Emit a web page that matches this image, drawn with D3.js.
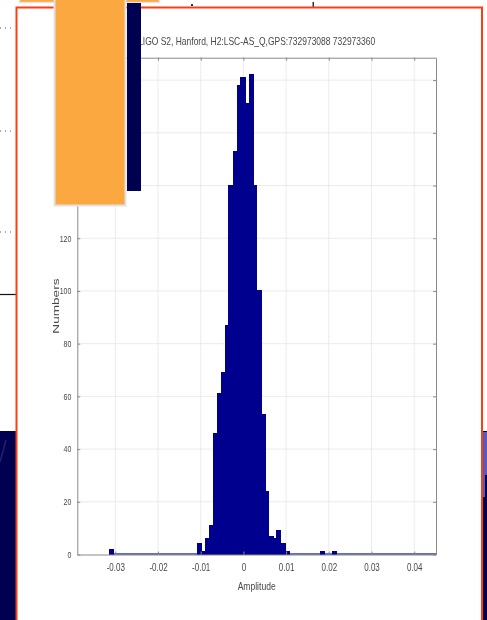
<!DOCTYPE html>
<html>
<head>
<meta charset="utf-8">
<script src="https://cdn.jsdelivr.net/npm/d3@7"></script>
<style>
  html, body { margin: 0; padding: 0; background: #ffffff; }
  svg { display: block; }
</style>
</head>
<body>
<svg id="slide" width="487" height="620"></svg>
<script>
// Histogram of strain amplitudes (bin centres and counts)
const binCenters = [-0.0308, -0.0103, -0.0094, -0.0084, -0.0075, -0.0066, -0.0057,
  -0.0047, -0.0038, -0.0029, -0.0019, -0.0010, -0.0001, 0.0009, 0.0018, 0.0027,
  0.0037, 0.0046, 0.0055, 0.0065, 0.0074, 0.0083, 0.0093, 0.0102, 0.0186, 0.0214];
const binCounts = [2, 4, 1, 6, 11, 46, 61, 69, 87, 140, 153, 178, 181, 171, 182,
  140, 100, 53, 24, 7, 6, 9, 4, 1, 1, 1];
const binWidth = 0.000932;

const xTicks = [-0.03, -0.02, -0.01, 0, 0.01, 0.02, 0.03, 0.04];
const xTickLabels = ["-0.03", "-0.02", "-0.01", "0", "0.01", "0.02", "0.03", "0.04"];
const yTicks = [0, 20, 40, 60, 80, 100, 120, 140, 160, 180];
const yTickLabels = ["0", "20", "40", "60", "80", "100", "120", "140", "160", "180"];

const titleText = "LIGO S2, Hanford, H2:LSC-AS_Q,GPS:732973088 732973360";
const xLabel = "Amplitude";
const yLabel = "Numbers";

const svg = d3.select("#slide");
const defs = svg.append("defs");
defs.append("filter").attr("id", "soft")
  .attr("x", "-5%").attr("y", "-5%").attr("width", "110%").attr("height", "110%")
  .append("feGaussianBlur").attr("stdDeviation", 0.65);

// ---- slide background pieces ----
const bg = svg.append("g");
// dotted guide marks on the left margin
[28, 131, 232].forEach(yy => {
  bg.append("line").attr("x1", 0).attr("x2", 15).attr("y1", yy).attr("y2", yy)
    .attr("stroke", "#555").attr("stroke-width", 1).attr("stroke-dasharray", "1,4");
});
bg.append("line").attr("x1", 0).attr("x2", 16).attr("y1", 294.5).attr("y2", 294.5)
  .attr("stroke", "#111").attr("stroke-width", 1.2);
// navy footer blocks
bg.append("rect").attr("x", 0).attr("y", 431).attr("width", 17).attr("height", 189).attr("fill", "#000050");
bg.append("line").attr("x1", 0).attr("y1", 462).attr("x2", 6).attr("y2", 440)
  .attr("stroke", "#22226a").attr("stroke-width", 1.5);
bg.append("rect").attr("x", 482).attr("y", 431).attr("width", 5).attr("height", 189).attr("fill", "#000050");
bg.append("rect").attr("x", 483).attr("y", 432).attr("width", 4).attr("height", 43).attr("fill", "#5a5ab8");
bg.append("rect").attr("x", 483).attr("y", 475).attr("width", 2).attr("height", 22).attr("fill", "#5a5ab8");
// small marks along the top
bg.append("rect").attr("x", 191).attr("y", 4).attr("width", 2).attr("height", 2).attr("fill", "#333");
bg.append("rect").attr("x", 312.5).attr("y", 2).attr("width", 1.5).attr("height", 7).attr("fill", "#333");

// white panel with red frame
svg.append("rect").attr("x", 16.5).attr("y", 7.5).attr("width", 465.5).attr("height", 630)
  .attr("fill", "#ffffff").attr("stroke", "#ff3d12").attr("stroke-width", 2);

// ---- chart ----
const plotLeft = 77.3, plotRight = 436, plotTop = 57.7, plotBottom = 554.5;
const x = d3.scaleLinear().domain([-0.0389, 0.0451]).range([plotLeft, plotRight]);
const y = d3.scaleLinear().domain([0, 188.5]).range([plotBottom, plotTop]);

const chart = svg.append("g").attr("filter", "url(#soft)");
const fontFam = "'Liberation Sans', Arial, sans-serif";
const ink = "#474747";

// gridlines
chart.append("g").selectAll("line").data(xTicks).join("line")
  .attr("x1", d => x(d)).attr("x2", d => x(d)).attr("y1", plotTop).attr("y2", plotBottom)
  .attr("stroke", "#d4d4d4").attr("stroke-width", 0.9).attr("stroke-dasharray", "1,1");
chart.append("g").selectAll("line").data(yTicks.filter(d => d > 0)).join("line")
  .attr("x1", plotLeft).attr("x2", plotRight).attr("y1", d => y(d)).attr("y2", d => y(d))
  .attr("stroke", "#d4d4d4").attr("stroke-width", 0.9).attr("stroke-dasharray", "1,1");

// zero-count baseline of the histogram
chart.append("line")
  .attr("x1", x(binCenters[0] - binWidth / 2)).attr("x2", plotRight)
  .attr("y1", y(0) - 0.5).attr("y2", y(0) - 0.5)
  .attr("stroke", "#2b3bc0").attr("stroke-width", 1.3);

// histogram bars
chart.append("g").selectAll("rect").data(binCenters).join("rect")
  .attr("x", d => x(d - binWidth / 2))
  .attr("width", d => x(d + binWidth / 2) - x(d - binWidth / 2))
  .attr("y", (d, i) => y(binCounts[i]))
  .attr("height", (d, i) => y(0) - y(binCounts[i]))
  .attr("fill", "#00008f").attr("stroke", "#00008f").attr("stroke-width", 1.1)
  .attr("shape-rendering", "crispEdges");

// axes (ticks pointing inward)
function styleAxis(g) {
  g.select(".domain").attr("stroke", "#8a8a8a").attr("stroke-width", 1);
  g.selectAll(".tick line").attr("stroke", "#8a8a8a");
}
const xAxis = chart.append("g").attr("transform", `translate(0,${plotBottom})`)
  .call(d3.axisBottom(x).tickValues(xTicks).tickFormat((d, i) => xTickLabels[i])
    .tickSize(-3).tickSizeOuter(0))
  .call(styleAxis);
xAxis.selectAll("text")
  .attr("y", 0).attr("dy", null)
  .attr("transform", "translate(0,13.5) scale(1,1.3)")
  .attr("dominant-baseline", "central")
  .attr("font-family", fontFam).attr("font-size", 8).attr("fill", ink);

const yAxis = chart.append("g").attr("transform", `translate(${plotLeft},0)`)
  .call(d3.axisLeft(y).tickValues(yTicks).tickFormat((d, i) => yTickLabels[i])
    .tickSize(-3).tickSizeOuter(0))
  .call(styleAxis);
yAxis.selectAll("text")
  .attr("x", 0).attr("dy", null)
  .attr("transform", "translate(-6,0) scale(1,1.3)")
  .attr("dominant-baseline", "central")
  .attr("font-family", fontFam).attr("font-size", 7).attr("fill", ink);

chart.append("g").attr("transform", `translate(0,${plotTop})`)
  .call(d3.axisTop(x).tickValues(xTicks).tickFormat("").tickSize(-3).tickSizeOuter(0))
  .call(styleAxis);
chart.append("g").attr("transform", `translate(${plotRight},0)`)
  .call(d3.axisRight(y).tickValues(yTicks).tickFormat("").tickSize(-3).tickSizeOuter(0))
  .call(styleAxis);

// titles
chart.append("text")
  .attr("transform", `translate(${(plotLeft + plotRight) / 2},41.5) scale(1,1.25)`)
  .attr("text-anchor", "middle").attr("dominant-baseline", "central")
  .attr("font-family", fontFam).attr("font-size", 8.5).attr("fill", ink)
  .attr("textLength", 237).attr("lengthAdjust", "spacingAndGlyphs")
  .text(titleText);
chart.append("text")
  .attr("transform", `translate(${(plotLeft + plotRight) / 2},587) scale(1,1.3)`)
  .attr("text-anchor", "middle").attr("dominant-baseline", "central")
  .attr("font-family", fontFam).attr("font-size", 8).attr("fill", ink)
  .attr("textLength", 38).attr("lengthAdjust", "spacingAndGlyphs")
  .text(xLabel);
chart.append("text")
  .attr("transform", `translate(56,${(plotTop + plotBottom) / 2}) rotate(-90) scale(1.6,1)`)
  .attr("text-anchor", "middle").attr("dominant-baseline", "central")
  .attr("font-family", fontFam).attr("font-size", 8.5).attr("fill", ink)
  .text(yLabel);

// ---- slide decorations drawn over the chart ----
const deco = svg.append("g");
deco.append("rect").attr("x", 19.5).attr("y", -2).attr("width", 140).attr("height", 4.5)
  .attr("fill", "#fba840").attr("stroke", "#e2e2e2").attr("stroke-width", 1.5);
deco.append("rect").attr("x", 54.5).attr("y", -2).attr("width", 71).attr("height", 207.5)
  .attr("fill", "#fba840").attr("stroke", "#e2e2e2").attr("stroke-width", 2);
deco.append("rect").attr("x", 127).attr("y", 3).attr("width", 14).attr("height", 188)
  .attr("fill", "#000050");
</script>
</body>
</html>
